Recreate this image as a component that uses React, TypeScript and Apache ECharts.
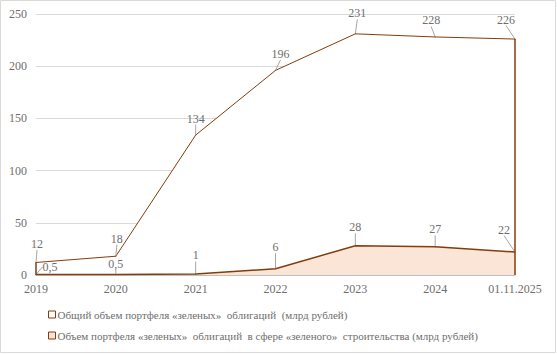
import React, { useEffect, useRef } from "react";
import * as echarts from "echarts";

const categories = ["2019", "2020", "2021", "2022", "2023", "2024", "01.11.2025"];
const totalValues = [12, 18, 134, 196, 231, 228, 226];
const greenBuildValues = [0.5, 0.5, 1, 6, 28, 27, 22];
const yTicks = { min: 0, max: 250, interval: 50 };
const seriesNames = [
  "Общий объем портфеля «зеленых»  облигаций  (млрд рублей)",
  "Объем портфеля «зеленых»  облигаций  в сфере «зеленого»  строительства (млрд рублей)",
];

const BROWN = "#843c0c";
const PEACH = "#fbe5d6";
const TEXT = "#6e6e6e";
const FONT = "'Liberation Serif', 'Times New Roman', serif";

const totalOffsets = [
  [1, -8], [1, -7], [0, -6], [5, -6], [2, -10], [-4, -6], [-9, -9],
];
const greenOffsets = [
  [14, 3], [0, 0], [0, -8], [0, -11], [0, -8], [0, -7], [-11, -12],
];

const fmt = (v: number) => String(v).replace(".", ",");

export default function App() {
  const ref = useRef<HTMLDivElement>(null);
  useEffect(() => {
    const chart = echarts.init(ref.current!, null, { renderer: "svg" });
    const labelCommon = {
      show: true,
      position: "top" as const,
      distance: 4,
      color: TEXT,
      fontFamily: FONT,
      fontSize: 12,
      formatter: (p: any) => fmt(p.value),
    };
    chart.setOption({
      animation: false,
      textStyle: { fontFamily: FONT },
      graphic: [
        {
          type: "rect",
          shape: { x: 0.5, y: 0.5, width: 555, height: 352 },
          style: { fill: "none", stroke: "#d9d9d9", lineWidth: 1 },
          silent: true,
          z: -10,
        },
      ],
      grid: { left: 36, right: 42, top: 14, bottom: 79 },
      xAxis: {
        type: "category",
        data: categories,
        boundaryGap: false,
        axisLine: { lineStyle: { color: "#bfbfbf" } },
        axisTick: { show: false },
        axisLabel: { color: TEXT, fontFamily: FONT, fontSize: 12, margin: 8 },
      },
      yAxis: {
        type: "value",
        min: yTicks.min,
        max: yTicks.max,
        interval: yTicks.interval,
        axisLine: { show: false },
        axisTick: { show: false },
        splitLine: { lineStyle: { color: "#d9d9d9", width: 1 } },
        axisLabel: { color: TEXT, fontFamily: FONT, fontSize: 12, margin: 9 },
      },
      legend: {
        orient: "vertical",
        left: 43,
        top: 304,
        itemWidth: 7,
        itemHeight: 7,
        itemGap: 10,
        icon: "rect",
        textStyle: { color: TEXT, fontFamily: FONT, fontSize: 11, padding: [0, 0, 0, -3] },
        data: [
          { name: seriesNames[0], itemStyle: { color: "#ffffff", borderColor: BROWN, borderWidth: 1 } },
          { name: seriesNames[1], itemStyle: { color: PEACH, borderColor: BROWN, borderWidth: 1 } },
        ],
      },
      series: [
        {
          name: seriesNames[0],
          type: "line",
          data: totalValues,
          symbol: "circle",
          symbolSize: 1,
          showSymbol: true,
          itemStyle: { color: BROWN },
          lineStyle: { color: BROWN, width: 1 },
          areaStyle: { color: "#ffffff", opacity: 1 },
          label: labelCommon,
          labelLine: { show: true, lineStyle: { color: "#a6a6a6", width: 1 } },
          labelLayout: (p: any) => ({ dx: totalOffsets[p.dataIndex][0], dy: totalOffsets[p.dataIndex][1] }),
          markLine: {
            silent: true,
            symbol: "none",
            label: { show: false },
            lineStyle: { color: BROWN, type: "solid", width: 1.5 },
            data: [
              [{ coord: [categories[0], 0] }, { coord: [categories[0], totalValues[0]] }],
              [
                { coord: [categories[categories.length - 1], 0] },
                { coord: [categories[categories.length - 1], totalValues[totalValues.length - 1]] },
              ],
            ],
          },
          z: 2,
        },
        {
          name: seriesNames[1],
          type: "line",
          data: greenBuildValues,
          symbol: "circle",
          symbolSize: 1,
          showSymbol: true,
          itemStyle: { color: BROWN },
          lineStyle: { color: BROWN, width: 1.5 },
          areaStyle: { color: PEACH, opacity: 1 },
          label: labelCommon,
          labelLine: { show: true, lineStyle: { color: "#a6a6a6", width: 1 } },
          labelLayout: (p: any) => ({ dx: greenOffsets[p.dataIndex][0], dy: greenOffsets[p.dataIndex][1] }),
          z: 3,
        },
      ],
    });
    return () => chart.dispose();
  }, []);
  return (
    <div
      ref={ref}
      style={{ position: "absolute", left: 0, top: 0, width: 557, height: 354, background: "#fff" }}
    />
  );
}
